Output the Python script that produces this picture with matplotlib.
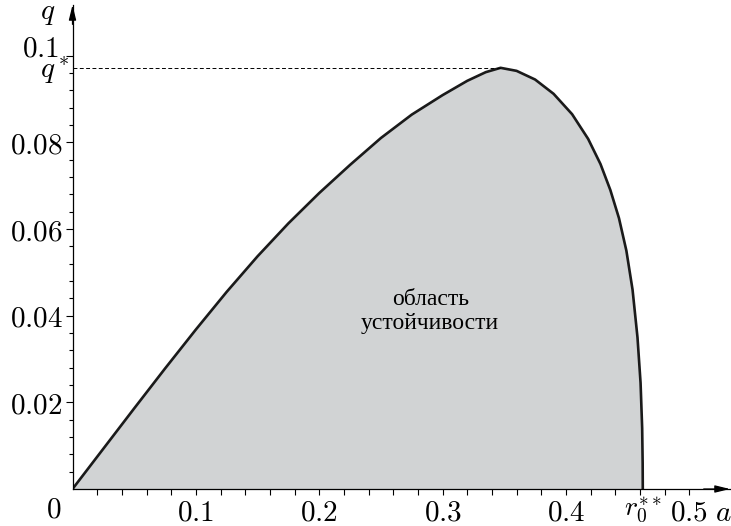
import numpy as np
import matplotlib.pyplot as plt
from matplotlib.transforms import ScaledTranslation

plt.rcParams['mathtext.fontset'] = 'cm'

# граница области устойчивости
a_pts = [0.000, 0.025, 0.050, 0.075, 0.100, 0.125, 0.150, 0.175, 0.200, 0.225,
         0.250, 0.275, 0.300, 0.320, 0.335, 0.347, 0.360, 0.375, 0.390, 0.405,
         0.418, 0.428, 0.436, 0.443, 0.449, 0.454, 0.458, 0.4605, 0.4618, 0.4622, 0.4623]
q_pts = [0.0000, 0.0093, 0.0186, 0.0278, 0.0368, 0.0455, 0.0537, 0.0613, 0.0683, 0.0748,
         0.0810, 0.0864, 0.0909, 0.0942, 0.0962, 0.0972, 0.0965, 0.0945, 0.0912, 0.0865,
         0.0808, 0.0750, 0.0690, 0.0625, 0.0550, 0.0460, 0.0350, 0.0245, 0.0140, 0.0060, 0.0000]

q_star = 0.0972
a_star = 0.347
r0 = 0.4623

x_major = [0.1, 0.2, 0.3, 0.4, 0.5]
x_labels = ['$0.1$', '$0.2$', '$0.3$', '$0.4$', '$0.5$']
y_major = [0.02, 0.04, 0.06, 0.08, 0.1]
y_labels = ['$0.02$', '$0.04$', '$0.06$', '$0.08$', '$0.1$']

fig = plt.figure(figsize=(7.31, 5.26), dpi=100)
ax = fig.add_axes([72.5/731, 37/526, (730-72.5)/731, (489-5)/526])
ax.set_xlim(0, 0.533)
ax.set_ylim(0, 0.1117)

ax.fill(a_pts, q_pts, color='#d1d3d4', lw=0)
ax.plot(a_pts, q_pts, color='#1a1a1a', lw=1.9, solid_joinstyle='round')
ax.plot([0, a_star], [q_star, q_star], 'k--', lw=0.7, dashes=(4, 2.5))

for s in ['top', 'right']:
    ax.spines[s].set_visible(False)
ax.spines['left'].set_linewidth(0.9)
ax.spines['bottom'].set_linewidth(0.9)
arr = dict(arrowstyle='-|>,head_length=0.9,head_width=0.22', color='k', lw=0.9,
           shrinkA=0, shrinkB=0)
ax.annotate('', xy=(1, 0), xytext=(0.96, 0), xycoords='axes fraction', arrowprops=arr)
ax.annotate('', xy=(0, 1), xytext=(0, 0.96), xycoords='axes fraction', arrowprops=arr)

ax.set_xticks(x_major)
ax.set_xticklabels(x_labels, fontsize=21)
ax.set_xticks(np.arange(0.02, 0.52, 0.02), minor=True)
ax.set_yticks(y_major)
ax.set_yticklabels(y_labels, fontsize=21)
ax.set_yticks(np.arange(0.004, 0.104, 0.004), minor=True)
ax.tick_params(axis='y', which='major', length=5, width=0.8, pad=2)
ax.tick_params(axis='y', which='minor', length=3, width=0.8)
ax.tick_params(axis='x', which='minor', length=4, width=0.8)
ax.tick_params(axis='x', which='major', length=4, width=0.8, pad=3)

# подпись 0.1 чуть выше, чтобы не налезала на q*
lab = ax.get_yticklabels()[-1]
lab.set_transform(lab.get_transform() + ScaledTranslation(-3/72, 7/72, fig.dpi_scale_trans))

ax.annotate('$0$', xy=(0, 0), xytext=(-19, -7), textcoords='offset pixels',
            fontsize=21, ha='center', va='top')
ax.annotate('$a$', xy=(0.5, 0), xytext=(34, -10), textcoords='offset pixels',
            fontsize=21, ha='center', va='top')
ax.annotate('$r_0^{**}$', xy=(r0, 0), xytext=(0, -6), textcoords='offset pixels',
            fontsize=20, ha='center', va='top')
ax.annotate('$q$', xy=(0, 0.1117), xytext=(-25, -8), textcoords='offset pixels',
            fontsize=21, ha='center', va='center')
ax.annotate('$q^*$', xy=(0, q_star), xytext=(-3, -10), textcoords='offset pixels',
            fontsize=21, ha='right', va='baseline')

ax.text(0.29, 0.041, 'область\nустойчивости', fontsize=17, family='Liberation Serif',
        ha='center', va='center', linespacing=1.15)

fig.savefig('out.png', dpi=100)
